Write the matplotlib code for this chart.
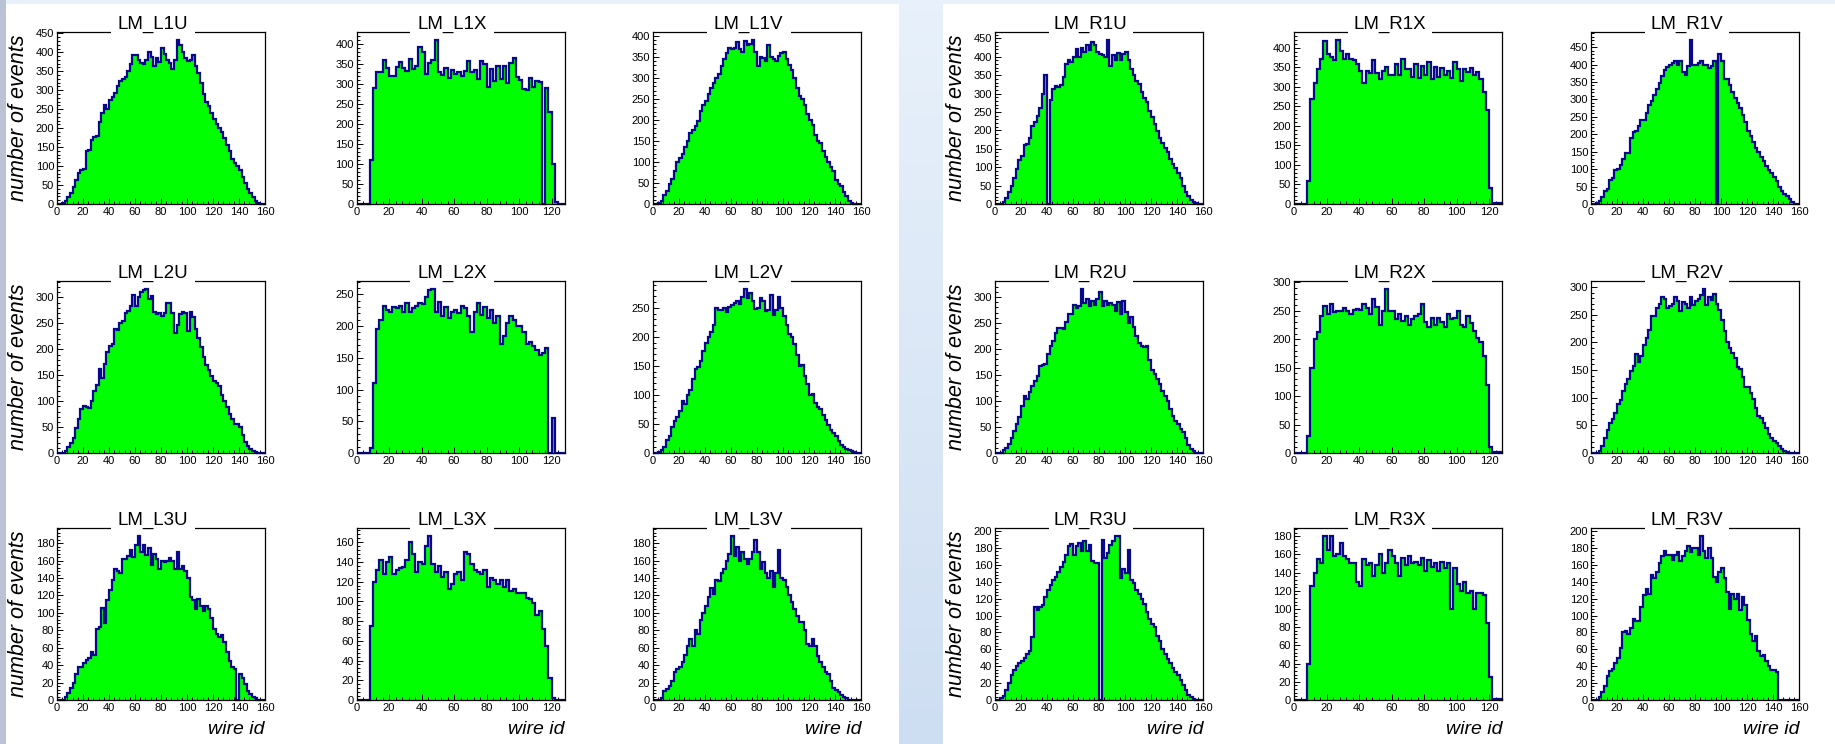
import numpy as np
import matplotlib
matplotlib.use("Agg")
import matplotlib.pyplot as plt
from matplotlib import font_manager as fm
from matplotlib.patches import Rectangle
from matplotlib.ticker import MultipleLocator

# ---------------- data (2-wire bins) ----------------
WIRES_UV = 160
WIRES_X = 128

L1U = [0,0,2,8,18,30,45,62,82,90, 92,140,142,168,178,180,215,240,262,250,
       275,282,292,310,325,330,334,352,370,392, 392,380,372,370,380,400,388,365,385,375,
       412,395,380,372,355,380,432,420,400,385, 378,380,392,365,345,320,290,270,258,240,
       225,210,200,190,175,155,140,118,108,100, 90,72,55,40,28,18,8,3,0,0]
L1X = [0,0,0,0,110,290,330,330,360,340, 320,320,342,355,340,332,362,338,345,392,
       380,325,352,360,410,330,322,340,315,335, 325,330,320,332,358,330,335,312,358,350,
       292,338,308,345,312,345,302,352,365,318, 310,288,286,315,292,308,305,0,290,230,
       100,5,0,0]
L1V = [0,0,2,8,22,32,48,60,78,100, 110,118,135,150,168,175,185,198,222,235,
       245,262,275,288,300,310,328,345,360,372, 368,372,385,370,362,388,378,382,390,362,
       328,350,348,340,378,350,345,340,352,360, 362,345,330,318,300,275,258,250,235,215,
       200,188,165,150,145,125,112,100,88,78, 58,48,42,28,18,8,2,0,0,0]
L2U = [0,0,0,3,12,20,28,48,65,85, 90,88,86,100,120,132,162,145,172,195,
       206,210,240,238,250,255,270,274,284,305, 284,300,310,314,316,298,302,272,268,270,
       265,270,290,290,270,232,246,268,272,270, 235,272,262,240,222,205,185,170,160,148,
       138,135,130,112,100,88,76,65,55,55, 50,35,22,14,8,4,1,0,0,0]
L2X = [0,0,0,0,8,110,195,210,232,225, 222,230,228,232,222,236,222,228,232,236,
       235,245,256,258,222,238,215,230,212,222, 225,220,232,228,216,190,222,236,218,230,
       212,225,205,215,172,184,205,216,210,200, 200,190,172,175,168,162,155,158,165,0,
       55,0,0,0]
L2V = [0,0,1,5,10,22,30,45,55,62, 72,90,84,100,108,128,145,148,158,175,
       190,200,208,220,250,246,246,250,242,252, 255,258,262,256,268,282,266,275,262,248,
       250,266,262,245,246,272,238,247,268,250, 235,220,204,200,188,168,150,152,132,118,
       100,102,86,80,76,66,56,48,40,35, 30,20,14,10,7,5,3,1,0,0]
L3U = [0,0,0,3,8,14,20,30,38,38, 42,46,48,55,52,82,84,106,88,115,
       126,138,150,148,146,162,162,165,172,164, 178,188,170,178,166,175,155,168,162,150,
       160,158,160,163,160,150,170,150,154,148, 140,118,115,104,116,108,102,108,105,94,
       82,76,72,75,66,55,45,38,36,0, 30,25,18,10,7,4,2,0,0,0]
L3X = [0,0,0,0,75,120,132,142,128,140, 145,128,132,134,135,142,160,148,130,140,
       138,156,166,138,130,136,125,130,112,118, 128,130,122,150,148,138,132,130,128,132,
       115,124,122,118,122,115,122,110,112,108, 108,108,103,102,98,86,90,72,55,22,
       2,0,0,0]
L3V = [0,0,0,2,10,13,16,22,32,36, 38,44,52,62,70,62,80,76,92,100,
       108,118,128,122,138,136,146,150,160,168, 188,165,176,160,170,162,156,162,170,184,
       170,150,158,146,140,148,130,146,172,140, 138,130,120,112,104,96,90,90,80,64,
       62,70,62,50,44,38,32,30,22,14, 11,9,6,3,2,0,0,0,0,0]

R1U = [0,0,0,5,15,32,50,70,95,120, 130,160,162,178,212,222,240,262,300,350,
       0,282,312,320,318,322,345,380,392,385, 400,420,400,425,412,432,418,440,432,412,
       408,405,398,445,376,405,390,410,392,408, 412,390,368,350,335,325,305,288,278,252,
       235,218,198,180,165,152,140,122,110,98, 85,70,48,32,22,12,5,2,0,0]
R1X = [0,0,0,0,60,270,310,345,372,418, 385,378,368,420,392,372,385,372,370,358,
       340,310,342,335,370,335,320,340,350,332, 330,358,332,372,345,345,325,360,322,355,
       330,365,320,352,325,348,332,340,322,365, 345,315,345,338,348,332,338,320,288,240,
       40,2,2,2]
R1V = [0,0,2,10,20,36,42,70,75,98, 100,112,128,145,145,190,208,210,225,242,
       240,262,285,295,312,330,348,368,385,392, 398,405,410,400,410,378,370,395,470,400,
       398,405,410,398,398,390,395,410,0,430, 410,360,360,340,322,305,290,275,255,235,
       210,195,178,160,148,135,122,110,98,88, 78,65,50,38,30,22,14,5,0,0]
R2U = [0,0,0,5,10,18,28,42,56,70, 90,110,104,118,128,138,148,168,170,172,
       190,205,215,230,240,240,238,252,268,268, 285,278,282,315,288,296,282,292,285,296,
       310,282,292,285,288,285,274,290,268,292, 272,250,262,242,225,212,206,204,206,178,
       160,152,142,132,120,110,100,85,72,62, 55,46,40,28,15,8,3,0,0,0]
R2X = [0,0,0,0,30,150,200,212,240,258, 245,262,248,250,250,255,250,245,252,254,
       252,262,255,245,270,256,225,250,288,250, 250,235,245,232,240,225,236,240,245,262,
       230,222,238,225,238,230,222,245,236,238, 250,225,222,240,228,215,202,195,170,120,
       10,2,2,2]
R2V = [0,0,0,4,12,28,42,55,62,72, 88,96,112,125,134,148,158,178,165,175,
       195,208,222,248,248,262,270,282,278,262, 265,270,282,274,256,272,270,262,282,268,
       275,278,286,296,268,282,276,288,270,258, 240,220,200,190,180,172,156,152,138,120,
       120,108,98,82,66,64,55,45,35,28, 22,18,12,8,4,2,0,0,0,0]
R3U = [0,0,2,5,12,20,30,36,40,44, 46,50,54,58,75,110,106,110,112,122,
       130,136,142,146,152,158,164,172,182,185, 172,182,186,176,188,176,184,165,162,162,
       0,190,168,174,184,188,194,194,145,155, 150,178,142,138,130,125,120,114,104,96,
       90,86,76,70,60,55,48,44,38,33, 30,24,18,12,6,3,1,0,0,0]
R3X = [0,0,0,0,40,125,140,155,150,180, 165,180,158,160,172,158,155,150,150,130,
       125,155,148,150,136,148,160,140,150,165, 158,150,136,156,148,158,150,152,148,156,
       142,154,146,150,142,152,145,150,100,145, 128,120,130,118,120,100,118,118,115,85,
       25,1,1,1]
R3V = [0,0,0,3,10,16,28,34,37,44, 50,62,80,82,78,85,96,94,94,110,
       124,132,125,148,145,152,162,170,176,172, 172,166,172,175,165,170,176,182,175,180,
       180,172,194,176,168,180,168,146,140,152, 156,145,128,108,125,120,126,106,122,112,
       95,78,70,76,58,52,53,46,40,36, 35,33,0,0,0,0,0,0,0,0]

PANEL_LEFT = [["LM_L1U", "LM_L1X", "LM_L1V"],
              ["LM_L2U", "LM_L2X", "LM_L2V"],
              ["LM_L3U", "LM_L3X", "LM_L3V"]]
PANEL_RIGHT = [["LM_R1U", "LM_R1X", "LM_R1V"],
               ["LM_R2U", "LM_R2X", "LM_R2V"],
               ["LM_R3U", "LM_R3X", "LM_R3V"]]
DATA = {"LM_L1U": L1U, "LM_L1X": L1X, "LM_L1V": L1V,
        "LM_L2U": L2U, "LM_L2X": L2X, "LM_L2V": L2V,
        "LM_L3U": L3U, "LM_L3X": L3X, "LM_L3V": L3V,
        "LM_R1U": R1U, "LM_R1X": R1X, "LM_R1V": R1V,
        "LM_R2U": R2U, "LM_R2X": R2X, "LM_R2V": R2V,
        "LM_R3U": R3U, "LM_R3X": R3X, "LM_R3V": R3V}
Y_LABEL = "number of events"
X_LABEL = "wire id"

# ---------------- styling ----------------
plt.rcParams["font.family"] = ["Liberation Sans", "DejaVu Sans"]
_installed = {f.name for f in fm.fontManager.ttflist}
if "Liberation Sans Narrow" in _installed:
    TITLE_FONT = dict(family=["Liberation Sans Narrow", "DejaVu Sans"], fontsize=15.5)
else:
    TITLE_FONT = dict(family=["Liberation Sans", "DejaVu Sans"], fontsize=13.5)
GREEN = "#00ff00"
BLUE = "#08088c"

W, H = 1835, 744
fig = plt.figure(figsize=(W / 100, H / 100), dpi=100)

# background decoration (slide look)
bg = fig.add_axes([0, 0, 1, 1], zorder=-10)
bg.set_xlim(0, W)
bg.set_ylim(H, 0)
bg.axis("off")
grad = np.linspace(0, 1, 64)[:, None]
top_c = np.array([232, 241, 251]) / 255
bot_c = np.array([206, 222, 242]) / 255
img = top_c[None, None, :] * (1 - grad[:, :, None]) + bot_c[None, None, :] * grad[:, :, None]
bg.imshow(img, extent=(0, W, H, 0), aspect="auto", zorder=0)
bg.add_patch(Rectangle((0, 0), 6, H, fc="#b9c3d4", ec="none", zorder=1))
bg.add_patch(Rectangle((6, 4), 893, H - 4, fc="white", ec="none", zorder=2))
bg.add_patch(Rectangle((943, 4), W - 943, H - 4, fc="white", ec="none", zorder=2))

COL_X = [[57, 356.5, 653], [995, 1294, 1591]]
ROW_Y = [32, 281, 528]
AX_W, AX_H = 208, 172


def draw_hist(ax, name, vals, first_col, last_row):
    vals = np.asarray(vals, dtype=float)
    xmax = WIRES_X if name.endswith("X") else WIRES_UV
    edges = np.linspace(0, xmax, len(vals) + 1)
    ax.stairs(vals, edges, fill=True, color=GREEN, zorder=1)
    ax.stairs(vals, edges, color=BLUE, lw=1.6, baseline=0, zorder=2, clip_on=False)
    ymax = vals.max() * 1.05
    ax.set_xlim(0, xmax)
    ax.set_ylim(0, ymax)
    ystep = 20 if ymax < 250 else 50
    ax.xaxis.set_major_locator(MultipleLocator(20))
    ax.xaxis.set_minor_locator(MultipleLocator(4))
    ax.yaxis.set_major_locator(MultipleLocator(ystep))
    ax.yaxis.set_minor_locator(MultipleLocator(ystep / 5))
    ax.tick_params(which="both", direction="in", top=False, right=False,
                   labelsize=8, pad=2, width=0.7, color="black")
    ax.tick_params(which="major", length=4.5)
    ax.tick_params(which="minor", length=2.2)
    for sp in ax.spines.values():
        sp.set_linewidth(0.9)
        sp.set_color("black")
    # title box interrupting the frame (ROOT style)
    ax.add_patch(Rectangle((0.258, 0.985), 0.404, 0.03, transform=ax.transAxes,
                           fc="white", ec="none", zorder=5, clip_on=False))
    ax.text(0.46, 1 + 3.0 / AX_H, name, transform=ax.transAxes, ha="center",
            va="baseline", zorder=6, **TITLE_FONT)
    if first_col:
        ax.text(-39 / AX_W, 0.5, Y_LABEL, transform=ax.transAxes, rotation=90,
                ha="center", va="center", fontsize=15.5, style="italic")
    if last_row:
        ax.text(1.0, -34 / AX_H, X_LABEL, transform=ax.transAxes, ha="right",
                va="baseline", fontsize=14, style="italic")


for side, grid in enumerate([PANEL_LEFT, PANEL_RIGHT]):
    for r, row in enumerate(grid):
        for c, name in enumerate(row):
            x0 = COL_X[side][c]
            y0 = ROW_Y[r]
            ax = fig.add_axes([x0 / W, 1 - (y0 + AX_H) / H, AX_W / W, AX_H / H])
            ax.set_facecolor("white")
            draw_hist(ax, name, DATA[name], c == 0, r == 2)

fig.savefig("out.png", dpi=100)
